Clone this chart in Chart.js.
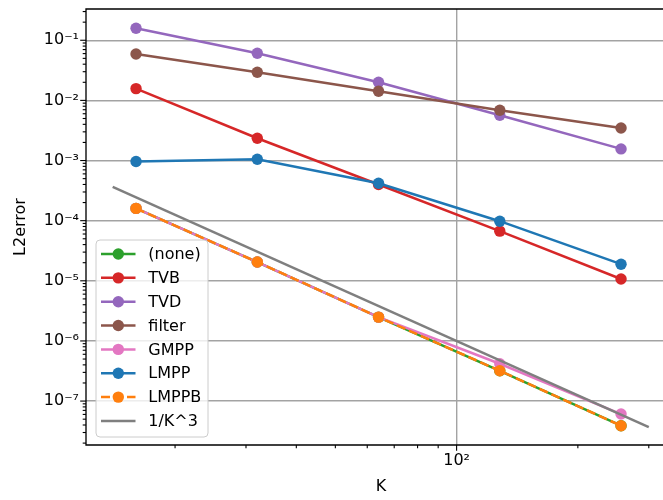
<!DOCTYPE html>
<html><head><meta charset="utf-8">
<script src="https://cdn.jsdelivr.net/npm/chart.js@4/dist/chart.umd.min.js"></script>
<style>html,body{margin:0;padding:0;background:#fff}#wrap{width:663px;height:500px;position:relative}</style>
</head><body><div id="wrap"><canvas id="c" width="663" height="500"></canvas></div>
<script>
// ---- data ----
const K = [16, 32, 64, 128, 256];
const errNone   = [1.60e-4, 2.05e-5, 2.49e-6, 3.19e-7, 3.89e-8];
const errTVB    = [1.57e-2, 2.35e-3, 4.00e-4, 6.70e-5, 1.07e-5];
const errTVD    = [1.58e-1, 6.08e-2, 2.00e-2, 5.67e-3, 1.56e-3];
const errFilter = [5.91e-2, 2.94e-2, 1.42e-2, 6.87e-3, 3.48e-3];
const errGMPP   = [1.60e-4, 2.05e-5, 2.49e-6, 4.17e-7, 6.08e-8];
const errLMPP   = [9.64e-4, 1.05e-3, 4.20e-4, 9.80e-5, 1.89e-5];
const errLMPPB  = [1.60e-4, 2.05e-5, 2.49e-6, 3.19e-7, 3.89e-8];
const refK   = [14, 300];
const refErr = [3.64e-4, 3.70e-8];
const seriesLabels = ['(none)', 'TVB', 'TVD', 'filter', 'GMPP', 'LMPP', 'LMPPB', '1/K^3'];

const xMajorTicks  = [100];
const xMajorLabels = ['10²'];
const xMinorTicks  = [20, 30, 40, 50, 60, 70, 80, 90, 200, 300];
const yMajorTicks  = [1e-7, 1e-6, 1e-5, 1e-4, 1e-3, 1e-2, 1e-1];
const yMajorLabels = ['10⁻⁷', '10⁻⁶', '10⁻⁵', '10⁻⁴', '10⁻³', '10⁻²', '10⁻¹'];
const yMinorTicks = [];
for (let e = -8; e <= -1; e++) for (let m = 2; m <= 9; m++) yMinorTicks.push(m * Math.pow(10, e));

const X_MIN = 12.02, X_MAX = 325.4, Y_MIN = 1.86e-8, Y_MAX = 0.331;

// ---- helpers ----
const FONT = "'DejaVu Sans', sans-serif";
const GRID = '#a3a3a3';
function idxOf(arr, v) {
  for (let i = 0; i < arr.length; i++) if (Math.abs(Math.log10(arr[i]) - Math.log10(v)) < 1e-6) return i;
  return -1;
}
const pts = (xs, ys) => xs.map((x, i) => ({x: x, y: ys[i]}));

const seriesData = [errNone, errTVB, errTVD, errFilter, errGMPP, errLMPP, errLMPPB];
const colors = ['#2ca02c', '#d62728', '#9467bd', '#8c564b', '#e377c2', '#1f77b4', '#ff7f0e', '#7f7f7f'];

const datasets = seriesData.map((d, i) => ({
  label: seriesLabels[i],
  data: pts(K, d),
  borderColor: colors[i],
  backgroundColor: colors[i],
  borderWidth: 2.5,
  pointRadius: 5.7,
  pointBorderWidth: 0,
  pointHoverRadius: 5.7,
  borderDash: seriesLabels[i] === 'LMPPB' ? [9, 4] : [],
  tension: 0,
  order: 8 - i
}));
datasets.push({
  label: seriesLabels[7],
  data: pts(refK, refErr),
  borderColor: colors[7],
  backgroundColor: colors[7],
  borderWidth: 2.5,
  pointRadius: 0,
  tension: 0,
  order: 1
});

const decor = {
  id: 'decor',
  afterDraw(chart) {
    const ctx = chart.ctx, a = chart.chartArea;
    const xs = chart.scales.x, ys = chart.scales.y;
    ctx.save();
    // tick marks
    ctx.strokeStyle = '#000'; ctx.lineWidth = 1.1;
    const tickX = (v, len) => { const p = xs.getPixelForValue(v); if (p < a.left - 0.5 || p > a.right + 0.5) return;
      ctx.beginPath(); ctx.moveTo(p, a.bottom); ctx.lineTo(p, a.bottom + len); ctx.stroke(); };
    const tickY = (v, len) => { const p = ys.getPixelForValue(v); if (p < a.top - 0.5 || p > a.bottom + 0.5) return;
      ctx.beginPath(); ctx.moveTo(a.left, p); ctx.lineTo(a.left - len, p); ctx.stroke(); };
    xMajorTicks.forEach(v => tickX(v, 5.8)); xMinorTicks.forEach(v => tickX(v, 3.3));
    yMajorTicks.forEach(v => tickY(v, 5.8)); yMinorTicks.forEach(v => tickY(v, 3.3));
    // frame
    ctx.lineWidth = 1.33; ctx.strokeStyle = '#000';
    ctx.beginPath();
    ctx.moveTo(a.right + 2, a.top); ctx.lineTo(a.left, a.top); ctx.lineTo(a.left, a.bottom); ctx.lineTo(a.right + 2, a.bottom);
    ctx.stroke();
    // axis titles
    ctx.fillStyle = '#000'; ctx.font = '16px ' + FONT; ctx.textAlign = 'center'; ctx.textBaseline = 'middle';
    ctx.fillText('K', 381, 487);
    ctx.save(); ctx.translate(21, 227); ctx.rotate(-Math.PI / 2); ctx.fillText('L2error', 0, 0); ctx.restore();
    // legend
    const bx = 96, by = 240, bw = 112, bh = 197, r = 4;
    ctx.beginPath();
    ctx.moveTo(bx + r, by); ctx.lineTo(bx + bw - r, by); ctx.quadraticCurveTo(bx + bw, by, bx + bw, by + r);
    ctx.lineTo(bx + bw, by + bh - r); ctx.quadraticCurveTo(bx + bw, by + bh, bx + bw - r, by + bh);
    ctx.lineTo(bx + r, by + bh); ctx.quadraticCurveTo(bx, by + bh, bx, by + bh - r);
    ctx.lineTo(bx, by + r); ctx.quadraticCurveTo(bx, by, bx + r, by); ctx.closePath();
    ctx.fillStyle = 'rgba(255,255,255,0.8)'; ctx.fill();
    ctx.strokeStyle = '#cccccc'; ctx.lineWidth = 1; ctx.stroke();
    chart.data.datasets.forEach((ds, i) => {
      const y = 254 + i * 23.85;
      ctx.strokeStyle = ds.borderColor; ctx.lineWidth = 2.5;
      ctx.setLineDash(ds.borderDash || []);
      ctx.beginPath(); ctx.moveTo(101, y); ctx.lineTo(135.5, y); ctx.stroke();
      ctx.setLineDash([]);
      if (ds.pointRadius > 0) { ctx.fillStyle = ds.backgroundColor; ctx.beginPath(); ctx.arc(118.3, y, 5.7, 0, Math.PI * 2); ctx.fill(); }
      ctx.fillStyle = '#000'; ctx.font = '16px ' + FONT; ctx.textAlign = 'left'; ctx.textBaseline = 'middle';
      ctx.fillText(ds.label, 148.3, y + 1);
    });
    ctx.restore();
  }
};

new Chart(document.getElementById('c'), {
  type: 'line',
  data: { datasets: datasets },
  options: {
    responsive: false, animation: false, events: [], devicePixelRatio: 1,
    layout: { autoPadding: false, padding: { top: 9, left: 0, right: 0, bottom: 0 } },
    plugins: { legend: { display: false }, tooltip: { enabled: false } },
    scales: {
      x: {
        type: 'logarithmic', min: X_MIN, max: X_MAX, bounds: 'data',
        afterBuildTicks: s => { s.ticks = xMajorTicks.concat(xMinorTicks).sort((p, q) => p - q).map(v => ({value: v})); },
        afterFit: s => { s.height = 55; s.paddingLeft = 0; s.paddingRight = 0; s.paddingTop = 0; s.paddingBottom = 0; },
        ticks: { autoSkip: false, maxRotation: 0, minRotation: 0, padding: 6, color: '#000', font: { family: FONT, size: 16 },
          callback: v => { const i = idxOf(xMajorTicks, v); return i >= 0 ? xMajorLabels[i] : ''; } },
        grid: { drawTicks: false, lineWidth: 1.4, color: c => (c.tick && idxOf(xMajorTicks, c.tick.value) >= 0) ? GRID : 'rgba(0,0,0,0)' },
        border: { display: false }
      },
      y: {
        type: 'logarithmic', min: Y_MIN, max: Y_MAX, bounds: 'data',
        afterBuildTicks: s => { s.ticks = yMajorTicks.concat(yMinorTicks).filter(v => v >= Y_MIN && v <= Y_MAX).sort((p, q) => p - q).map(v => ({value: v})); },
        afterFit: s => { s.width = 86; s.paddingLeft = 0; s.paddingRight = 0; s.paddingTop = 0; s.paddingBottom = 0; },
        ticks: { autoSkip: false, padding: 7, color: '#000', font: { family: FONT, size: 16 },
          callback: v => { const i = idxOf(yMajorTicks, v); return i >= 0 ? yMajorLabels[i] : ''; } },
        grid: { drawTicks: false, lineWidth: 1.4, color: c => (c.tick && idxOf(yMajorTicks, c.tick.value) >= 0) ? GRID : 'rgba(0,0,0,0)' },
        border: { display: false }
      }
    }
  },
  plugins: [decor]
});
</script>
</body></html>
